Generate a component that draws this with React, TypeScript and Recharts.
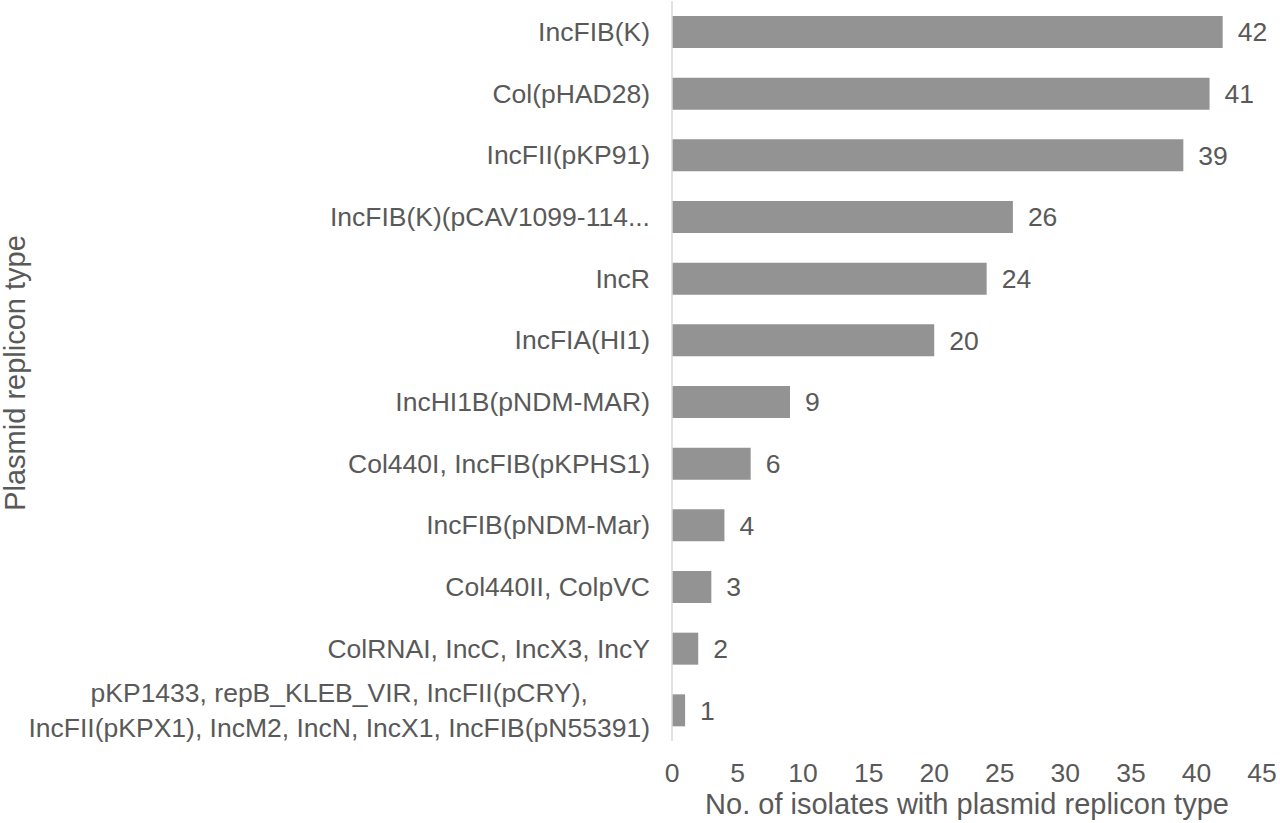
import { Bar, BarChart, LabelList, XAxis, YAxis } from "recharts";

const REPLICONS = [
  "IncFIB(K)",
  "Col(pHAD28)",
  "IncFII(pKP91)",
  "IncFIB(K)(pCAV1099-114...",
  "IncR",
  "IncFIA(HI1)",
  "IncHI1B(pNDM-MAR)",
  "Col440I, IncFIB(pKPHS1)",
  "IncFIB(pNDM-Mar)",
  "Col440II, ColpVC",
  "ColRNAI, IncC, IncX3, IncY",
  "pKP1433, repB_KLEB_VIR, IncFII(pCRY),\nIncFII(pKPX1), IncM2, IncN, IncX1, IncFIB(pN55391)",
];
const ISOLATE_COUNTS = [42, 41, 39, 26, 24, 20, 9, 6, 4, 3, 2, 1];
const X_TICKS = [0, 5, 10, 15, 20, 25, 30, 35, 40, 45];

const TEXT = "#595959";
const BAR = "#939393";
const AXIS = "#d9d9d9";
const FONT = "'Liberation Sans', Arial, sans-serif";
const TICK_SIZE = 26.5;
const TITLE_SIZE = 29;

const data = REPLICONS.map((name, i) => ({ name, count: ISOLATE_COUNTS[i] }));

let ctx: CanvasRenderingContext2D | null = null;
function textWidth(s: string) {
  if (!ctx) ctx = document.createElement("canvas").getContext("2d");
  if (!ctx) return s.length * TICK_SIZE * 0.5;
  ctx.font = `${TICK_SIZE}px ${FONT}`;
  return ctx.measureText(s).width;
}

function CategoryTick(props: any) {
  const { x, y, payload } = props;
  const lines: string[] = String(payload.value).split("\n");
  if (lines.length === 1) {
    return (
      <text x={x} y={y} dy="0.35em" textAnchor="end" fill={TEXT} fontSize={TICK_SIZE} fontFamily={FONT}>
        {lines[0]}
      </text>
    );
  }
  // wrapped labels are centred on one another, right edge of the widest line at x
  const widest = Math.max(...lines.map(textWidth));
  const cx = x - widest / 2;
  const lineH = 35;
  const top = y - ((lines.length - 1) * lineH) / 2;
  return (
    <text textAnchor="middle" fill={TEXT} fontSize={TICK_SIZE} fontFamily={FONT}>
      {lines.map((l, i) => (
        <tspan key={i} x={cx} y={top + i * lineH} dy="0.35em">
          {l}
        </tspan>
      ))}
    </text>
  );
}

function YTitle(props: any) {
  const { viewBox } = props;
  const cx = 15;
  const cy = viewBox.y + viewBox.height / 2 + 2;
  return (
    <text
      x={cx}
      y={cy}
      dy="0.35em"
      textAnchor="middle"
      transform={`rotate(-90 ${cx} ${cy})`}
      fill={TEXT}
      fontSize={TITLE_SIZE}
      fontFamily={FONT}
    >
      Plasmid replicon type
    </text>
  );
}

export default function App() {
  return (
    <div style={{ position: "absolute", left: 0, top: 0, background: "#fff" }}>
      <BarChart
        width={1280}
        height={823}
        data={data}
        layout="vertical"
        margin={{ top: 1, right: 18, bottom: 0, left: 0 }}
      >
        <XAxis
          type="number"
          domain={[0, 45]}
          ticks={X_TICKS}
          axisLine={false}
          tickLine={false}
          tickSize={0}
          tickMargin={22}
          height={82}
          tick={{ fill: TEXT, fontSize: TICK_SIZE, fontFamily: FONT }}
          label={{
            value: "No. of isolates with plasmid replicon type",
            position: "insideBottom",
            offset: 9,
            fill: TEXT,
            fontSize: TITLE_SIZE,
            fontFamily: FONT,
          }}
        />
        <YAxis
          type="category"
          dataKey="name"
          width={672}
          interval={0}
          axisLine={{ stroke: AXIS, strokeWidth: 1.5 }}
          tickLine={false}
          tickSize={0}
          tickMargin={22}
          tick={<CategoryTick />}
          label={<YTitle />}
        />
        <Bar dataKey="count" fill={BAR} barSize={32} isAnimationActive={false}>
          <LabelList
            dataKey="count"
            position="right"
            offset={15}
            fill={TEXT}
            fontSize={TICK_SIZE}
            fontFamily={FONT}
          />
        </Bar>
      </BarChart>
    </div>
  );
}
